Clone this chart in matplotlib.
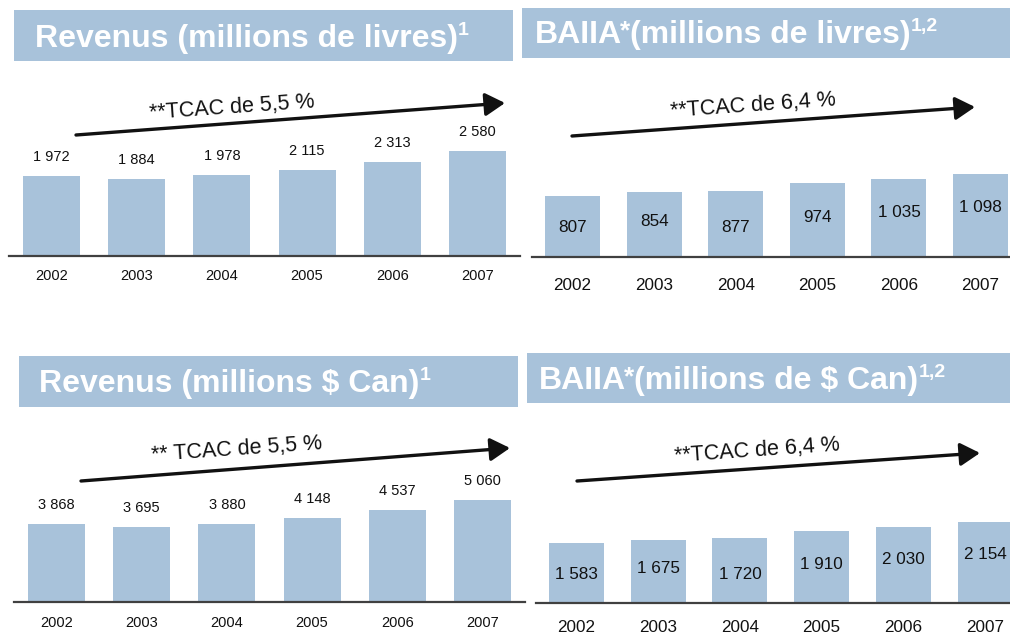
import matplotlib.pyplot as plt
from matplotlib import font_manager
from matplotlib.patches import Rectangle, FancyArrowPatch

#### Data ####
years = ['2002', '2003', '2004', '2005', '2006', '2007']
rev_livres = [1972, 1884, 1978, 2115, 2313, 2580]
baiia_livres = [807, 854, 877, 974, 1035, 1098]
rev_can = [3868, 3695, 3880, 4148, 4537, 5060]
baiia_can = [1583, 1675, 1720, 1910, 2030, 2154]
tcac_rev = '5,5'
tcac_baiia = '6,4'

#### Figure setup (pixel based layout) ####
W, H = 1010, 636
BLUE = '#A8C2DA'
plt.rcParams['font.family'] = ['Liberation Sans', 'DejaVu Sans']

names = {f.name for f in font_manager.fontManager.ttflist}
NARROW = 'Liberation Sans Narrow' if 'Liberation Sans Narrow' in names else 'Liberation Sans'
narrow_size = 13.5 if NARROW == 'Liberation Sans Narrow' else 12.3

fig = plt.figure(figsize=(W / 100, H / 100), dpi=100)


def fx(x):
    return x / W


def fy(y):
    return 1 - y / H


def fmt(v):
    return f'{v:,}'.replace(',', ' ')


def banner(x0, y0, x1, y1):
    fig.add_artist(Rectangle((fx(x0), fy(y1)), (x1 - x0) / W, (y1 - y0) / H,
                             transform=fig.transFigure, color=BLUE, lw=0))


def title(x, base_y, parts, sup):
    t = fig.text(fx(x), fy(base_y), parts[0], color='white', fontsize=23,
                 weight='bold', va='baseline')
    last = t
    if len(parts) > 1:
        # the star after BAIIA sits high, then the rest of the title follows
        fig.add_artist(plt.Annotation('*', xy=(1, 1), xycoords=t, color='white',
                                      fontsize=19, weight='bold', va='top', ha='left',
                                      xytext=(-2, 1), textcoords='offset pixels'))
        last = plt.Annotation(parts[1], xy=(1, 0), xycoords=t, color='white',
                              fontsize=23, weight='bold', va='bottom', ha='left',
                              xytext=(8, 0), textcoords='offset pixels')
        fig.add_artist(last)
    fig.add_artist(plt.Annotation(sup, xy=(1, 1), xycoords=last, color='white',
                                  fontsize=14, weight='bold', va='top', ha='left',
                                  xytext=(0, 2), textcoords='offset pixels'))


def arrow(p0, p1, label, text_xy, angle):
    fig.add_artist(FancyArrowPatch((fx(p0[0]), fy(p0[1])), (fx(p1[0]), fy(p1[1])),
                                   transform=fig.transFigure,
                                   arrowstyle='-|>,head_length=1.2,head_width=0.7',
                                   mutation_scale=10, lw=2.4, color='#111111',
                                   shrinkA=0, shrinkB=0))
    fig.text(fx(text_xy[0]), fy(text_xy[1]), label, fontsize=15.5, rotation=angle,
             rotation_mode='anchor', ha='center', va='center', color='#111111')


def bars(values, first_center, step, bar_px, baseline, scale, inside, year_gap):
    left = first_center - step / 2
    ax = fig.add_axes([fx(left), fy(baseline), 6 * step / W, 140 / H])
    x = range(len(values))
    ax.bar(x, values, width=bar_px / step, color=BLUE, zorder=1)
    ax.set_xlim(-0.5, 5.5)
    ax.set_ylim(0, 140 / scale)
    ax.set_xticks([])
    ax.set_yticks([])
    for s in ['top', 'left', 'right']:
        ax.spines[s].set_visible(False)
    ax.spines['bottom'].set_color('#404040')
    ax.spines['bottom'].set_linewidth(1.6)
    ax.patch.set_alpha(0)
    nudge = [-1.5, 3.5, -4, 2.5, 5, 8]
    for i, v in enumerate(values):
        if inside:
            ax.annotate(fmt(v), xy=(i, v / 2), xytext=(0, nudge[i]),
                        textcoords='offset pixels', ha='center', va='center',
                        family=NARROW, fontsize=narrow_size, color='#111111')
            ax.annotate(years[i], xy=(i, 0), xytext=(0, -year_gap),
                        textcoords='offset pixels', ha='center', va='center',
                        family=NARROW, fontsize=narrow_size, color='#111111',
                        annotation_clip=False)
        else:
            ax.annotate(fmt(v), xy=(i, v), xytext=(0, 19),
                        textcoords='offset pixels', ha='center', va='center',
                        fontsize=10.5, color='#111111')
            ax.annotate(years[i], xy=(i, 0), xytext=(0, -year_gap),
                        textcoords='offset pixels', ha='center', va='center',
                        fontsize=10.5, color='#111111', annotation_clip=False)
    return ax


#### Top left: Revenus (millions de livres) ####
banner(14, 10, 513, 61)
title(35, 47, ['Revenus (millions de livres)'], '1')
bars(rev_livres, 51.5, 85.2, 57, 256, 0.0408, False, 20)
arrow((76, 135), (505, 103), '**TCAC de ' + tcac_rev + ' %', (232, 108), 4)

#### Top right: BAIIA (millions de livres) ####
banner(522, 8, 1010, 58)
title(535, 43, ['BAIIA', '(millions de livres)'], '1,2')
bars(baiia_livres, 572.5, 81.6, 55, 257, 0.0756, True, 28)
arrow((572, 136), (975, 107), '**TCAC de ' + tcac_baiia + ' %', (753, 106), 4)

#### Bottom left: Revenus (millions $ Can) ####
banner(19, 356, 518, 407)
title(39, 392, ['Revenus (millions $ Can)'], '1')
bars(rev_can, 56.5, 85.2, 57, 602, 0.0202, False, 21)
arrow((81, 481), (510, 448), '** TCAC de ' + tcac_rev + ' %', (237, 450), 4)

#### Bottom right: BAIIA (millions de $ Can) ####
banner(527, 353, 1010, 403)
title(539, 389, ['BAIIA', '(millions de $ Can)'], '1,2')
bars(baiia_can, 576.5, 81.7, 55, 603, 0.0376, True, 25)
arrow((577, 481), (980, 453), '**TCAC de ' + tcac_baiia + ' %', (757, 451), 4)

plt.savefig('out.png', dpi=100)
